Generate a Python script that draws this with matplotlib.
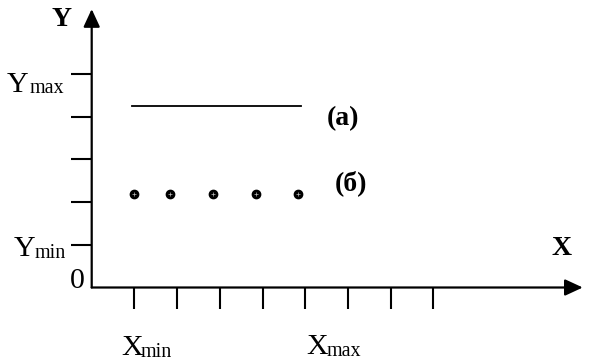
import matplotlib
matplotlib.use("Agg")
import matplotlib.pyplot as plt

# положения делений и точек (в единицах шага сетки)
x_ticks = [1, 2, 3, 4, 5, 6, 7, 8]
y_ticks = [1, 2, 3, 4, 5]
points_x = [1.0, 1.84, 2.85, 3.85, 4.84]
points_y = [2.18, 2.18, 2.18, 2.18, 2.18]
line_x = [0.94, 4.90]
line_y = [4.25, 4.25]
x_axis_end = 11.5
y_axis_end = 6.52

W, H = 591, 363
ox, oy, step = 91.7, 287.5, 42.7  # пиксели начала координат и шага

plt.rcParams['font.family'] = ['Liberation Serif', 'DejaVu Serif']

fig = plt.figure(figsize=(W / 100, H / 100), dpi=100)
ax = fig.add_axes([0, 0, 1, 1])
ax.set_xlim(-ox / step, (W - ox) / step)
ax.set_ylim((oy - H) / step, oy / step)
ax.axis('off')

# оси со стрелками
arrow = dict(arrowstyle='-|>,head_length=0.54,head_width=0.25', color='black',
             lw=1.6, shrinkA=0, shrinkB=0, mutation_scale=20)
ax.annotate('', xy=(0, y_axis_end), xytext=(0, 0), arrowprops=arrow)
ax.annotate('', xy=(x_axis_end, 0), xytext=(0, 0), arrowprops=arrow)

# деления
tick_len = 21 / step
for t in x_ticks:
    ax.plot([t, t], [0, -tick_len], color='black', lw=1.5, solid_capstyle='butt')
for t in y_ticks:
    ax.plot([0, -tick_len], [t, t], color='black', lw=1.5, solid_capstyle='butt')

# (а) линия, (б) точки
ax.plot(line_x, line_y, color='black', lw=1.3)
ax.plot(points_x, points_y, 'o', color='black', ms=6, ls='none')
ax.plot(points_x, points_y, '+', color='#bbbbbb', ms=3.5, mew=0.5, ls='none')


def put(x, y, s, **kw):
    fig.text(x / W, 1 - y / H, s, **kw)


# подписи
put(51, 26, 'Y', fontsize=20, fontweight='bold', va='baseline')
put(552, 255, 'X', fontsize=20, fontweight='bold', va='baseline')
put(343, 119, '(a)', fontsize=20, fontweight='bold', ha='center', va='center')
put(351, 183, '(б)', fontsize=20, fontweight='bold', ha='center', va='center')

put(7, 92, 'Y', fontsize=21.5, va='baseline')
put(30, 93, 'max', fontsize=14.5, va='baseline')
put(14, 256, 'Y', fontsize=21.5, va='baseline')
put(35, 258, 'min', fontsize=14.5, va='baseline')
put(70, 288, '0', fontsize=21.5, va='baseline')

put(121, 355, 'X', fontsize=21.5, va='baseline')
put(141, 357, 'min', fontsize=14.5, va='baseline')
put(306, 354, 'X', fontsize=21.5, va='baseline')
put(327, 356, 'max', fontsize=14.5, va='baseline')

fig.savefig('out.png', dpi=100, facecolor='white')
